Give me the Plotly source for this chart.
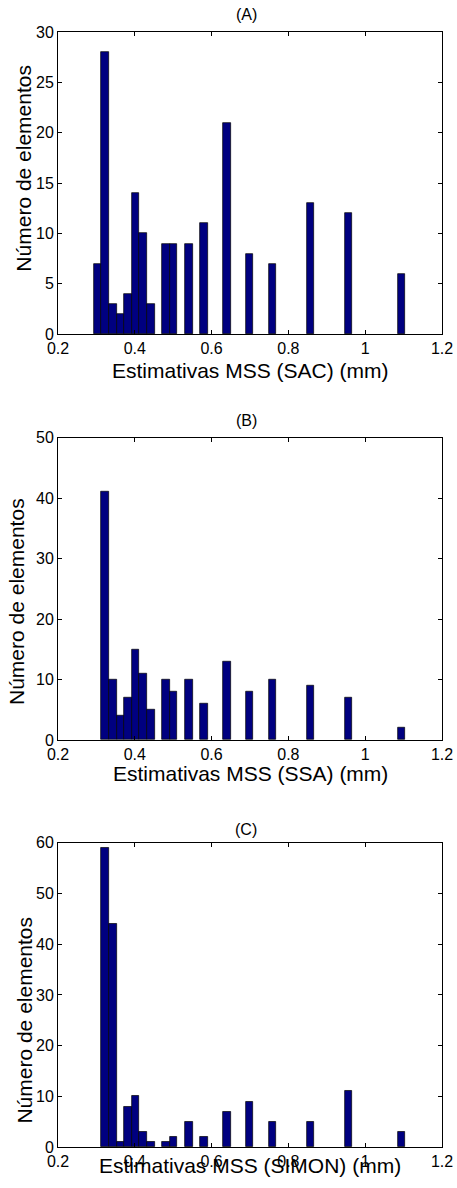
import plotly.graph_objects as go

# Bin centres (mm) of the histogram bars, shared by the three panels
bin_centers = [0.3030, 0.3228, 0.3426, 0.3624, 0.3822, 0.4020, 0.4218, 0.4416,
               0.4812, 0.5010, 0.5406, 0.5802, 0.6396, 0.6990, 0.7584, 0.8574,
               0.9564, 1.0950]
bin_width = 0.0198

counts_sac = [7, 28, 3, 2, 4, 14, 10, 3, 9, 9, 9, 11, 21, 8, 7, 13, 12, 6]
counts_ssa = [0, 41, 10, 4, 7, 15, 11, 5, 10, 8, 10, 6, 13, 8, 10, 9, 7, 2]
counts_simon = [0, 59, 44, 1, 8, 10, 3, 1, 1, 2, 5, 2, 7, 9, 5, 5, 11, 3]

panel_titles = ["(A)", "(B)", "(C)"]
x_titles = ["Estimativas MSS (SAC) (mm)", "Estimativas MSS (SSA) (mm)",
            "Estimativas MSS (SIMON) (mm)"]
y_title = "Número de elementos"
y_ranges = [[0, 30], [0, 50], [0, 60]]
y_dticks = [5, 10, 10]
x_range = [0.2, 1.2]
x_dtick = 0.2

W, H = 457, 1188
L, R, T, B = 57.7, 14.7, 32.3, 41.3
panels_px = [(32.3, 334.3), (437.7, 740.0), (842.7, 1146.7)]  # top, bottom
x_title_shift = [-36, -33, -18]
title_shift = [18, 17.5, 13]
y_title_pos = [(23.5, 168.0), (16.0, 601.6), (24.0, 1020.0)]

FONT = "Liberation Sans, Arial, sans-serif"
BAR_COLOR = "#000080"

ph = H - T - B
fig = go.Figure()
annotations = []
all_counts = [counts_sac, counts_ssa, counts_simon]
for i in range(3):
    sfx = "" if i == 0 else str(i + 1)
    xa, ya = "x" + sfx, "y" + sfx
    xs = [c for c, n in zip(bin_centers, all_counts[i]) if n > 0]
    ys = [n for n in all_counts[i] if n > 0]
    fig.add_trace(go.Bar(
        x=xs, y=ys, width=bin_width,
        marker=dict(color=BAR_COLOR, line=dict(color="black", width=0.7)),
        xaxis=xa, yaxis=ya, showlegend=False, hoverinfo="x+y"))
    top, bot = panels_px[i]
    dom = [(H - B - bot) / ph, (H - B - top) / ph]
    common = dict(showline=True, mirror="ticks", linecolor="black", linewidth=1,
                  ticks="inside", ticklen=4, tickcolor="black", tickwidth=1,
                  showgrid=False, zeroline=False, automargin=False,
                  tickfont=dict(family=FONT, size=16, color="black"))
    fig.layout["xaxis" + sfx] = dict(range=x_range, dtick=x_dtick, tick0=0.2,
                                     anchor=ya, domain=[0, 1], **common)
    fig.layout["yaxis" + sfx] = dict(range=y_ranges[i], dtick=y_dticks[i],
                                     anchor=xa, domain=dom, **common)
    annotations.append(dict(text=panel_titles[i], xref=xa + " domain", yref=ya + " domain",
                            x=0.49, y=1, yshift=title_shift[i], showarrow=False,
                            xanchor="center", yanchor="middle",
                            font=dict(family=FONT, size=16, color="black")))
    annotations.append(dict(text=x_titles[i], xref=xa + " domain", yref=ya + " domain",
                            x=0.5, y=0, yshift=x_title_shift[i], showarrow=False,
                            xanchor="center", yanchor="middle",
                            font=dict(family=FONT, size=21, color="black")))
    yx, yy = y_title_pos[i]
    annotations.append(dict(text=y_title, xref="paper", yref="paper",
                            x=(yx - L) / (W - L - R), y=(H - B - yy) / ph,
                            showarrow=False, textangle=-90,
                            xanchor="center", yanchor="middle",
                            font=dict(family=FONT, size=21, color="black")))

fig.update_layout(width=W, height=H,
                  margin=dict(l=L, r=R, t=T, b=B, autoexpand=False),
                  plot_bgcolor="white", paper_bgcolor="white",
                  bargap=0, annotations=annotations,
                  font=dict(family=FONT, color="black"))
fig.write_html("out.html",
               config={"displayModeBar": False},
               post_script="document.body.style.margin='0';"
                           "document.body.style.overflow='hidden';")
